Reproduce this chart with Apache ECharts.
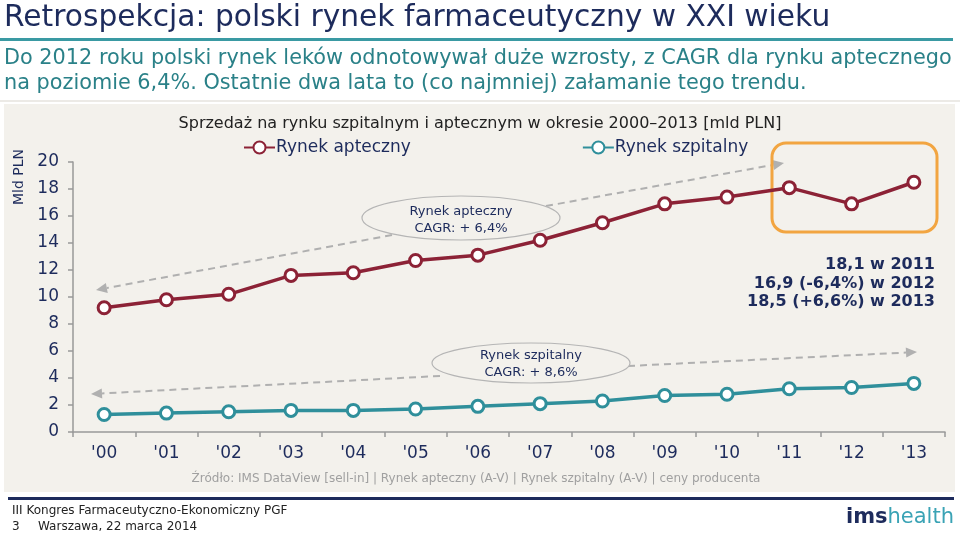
<!DOCTYPE html>
<html>
<head>
<meta charset="utf-8">
<script src="https://cdn.jsdelivr.net/npm/echarts@6/dist/echarts.min.js"></script>
<style>
html,body{margin:0;padding:0;background:#fff;}
#c{width:960px;height:536px;}
</style>
</head>
<body>
<div id="c"></div>
<script>
var categories = ["'00","'01","'02","'03","'04","'05","'06","'07","'08","'09","'10","'11","'12","'13"];
var rynekApteczny = [9.2, 9.8, 10.2, 11.6, 11.8, 12.7, 13.1, 14.2, 15.5, 16.9, 17.4, 18.1, 16.9, 18.5];
var rynekSzpitalny = [1.3, 1.4, 1.5, 1.6, 1.6, 1.7, 1.9, 2.1, 2.3, 2.7, 2.8, 3.2, 3.3, 3.6];
var yTicks = {min: 0, max: 20, interval: 2};

var NAVY = '#1d2b5c';
var TEAL = '#2f8f9b';
var RED = '#8c2236';
var FONT = '"DejaVu Sans", Verdana, sans-serif';

var chart = echarts.init(document.getElementById('c'));

function arrow(x1, y1, x2, y2) {
  var ang = Math.atan2(y2 - y1, x2 - x1);
  var L = 11, W = 5;
  var bx = x2 - L * Math.cos(ang), by = y2 - L * Math.sin(ang);
  var px = -Math.sin(ang) * W, py = Math.cos(ang) * W;
  return [
    {type: 'line', z: 1, shape: {x1: x1, y1: y1, x2: bx, y2: by},
     style: {stroke: '#b0b0b0', lineWidth: 2, lineDash: [7, 5]}},
    {type: 'polygon', z: 1, shape: {points: [[x2, y2], [bx + px, by + py], [bx - px, by - py]]},
     style: {fill: '#b0b0b0'}}
  ];
}

var graphics = [
  {type: 'text', left: 4, top: 3, style: {text: 'Retrospekcja: polski rynek farmaceutyczny w XXI wieku', font: '29.7px ' + FONT, fill: NAVY}},
  {type: 'rect', shape: {x: 0, y: 38, width: 953, height: 3}, style: {fill: '#3a9aa3'}},
  {type: 'text', left: 4, top: 48, style: {text: 'Do 2012 roku polski rynek leków odnotowywał duże wzrosty, z CAGR dla rynku aptecznego', font: '20.8px ' + FONT, fill: '#2a8188'}},
  {type: 'text', left: 4, top: 73, style: {text: 'na poziomie 6,4%. Ostatnie dwa lata to (co najmniej) załamanie tego trendu.', font: '20.8px ' + FONT, fill: '#2a8188'}},
  {type: 'rect', z: -10, shape: {x: 4, y: 104, width: 951, height: 388}, style: {fill: '#f3f1ec'}},
  {type: 'rect', z: -10, shape: {x: 0, y: 100, width: 960, height: 2}, style: {fill: '#eceae6'}},
  {type: 'text', rotation: Math.PI / 2, x: 12, y: 205, style: {text: 'Mld PLN', font: '14px ' + FONT, fill: NAVY}},
  {type: 'ellipse', z: 2, shape: {cx: 461, cy: 218, rx: 99, ry: 22}, style: {fill: '#f3f1ec', stroke: '#b5b5b5', lineWidth: 1.2}},
  {type: 'text', z: 3, x: 461, y: 203, style: {text: 'Rynek apteczny\nCAGR: + 6,4%', font: '13px ' + FONT, fill: NAVY, align: 'center', lineHeight: 17}},
  {type: 'ellipse', z: 2, shape: {cx: 531, cy: 363, rx: 99, ry: 20}, style: {fill: '#f3f1ec', stroke: '#b5b5b5', lineWidth: 1.2}},
  {type: 'text', z: 3, x: 531, y: 347, style: {text: 'Rynek szpitalny\nCAGR: + 8,6%', font: '13px ' + FONT, fill: NAVY, align: 'center', lineHeight: 17}},
  {type: 'rect', z: 4, shape: {x: 772, y: 143, width: 165, height: 89, r: 14}, style: {fill: 'none', stroke: '#f2a541', lineWidth: 3}},
  {type: 'text', z: 3, x: 935, y: 256, style: {text: '18,1 w 2011\n16,9 (-6,4%) w 2012\n18,5 (+6,6%) w 2013', font: 'bold 16px ' + FONT, fill: NAVY, align: 'right', lineHeight: 18.5}},
  {type: 'text', x: 476, y: 473, style: {text: 'Źródło: IMS DataView [sell-in] | Rynek apteczny (A-V) | Rynek szpitalny (A-V) | ceny producenta', font: '12px ' + FONT, fill: '#a0a0a0', align: 'center'}},
  {type: 'rect', shape: {x: 8, y: 497, width: 946, height: 3}, style: {fill: '#1d2b5c'}},
  {type: 'text', x: 12, y: 505, style: {text: 'III Kongres Farmaceutyczno-Ekonomiczny PGF', font: '12px ' + FONT, fill: '#222'}},
  {type: 'text', x: 12, y: 521, style: {text: '3', font: '12px ' + FONT, fill: '#222'}},
  {type: 'text', x: 38, y: 521, style: {text: 'Warszawa, 22 marca 2014', font: '12px ' + FONT, fill: '#222'}},
  {type: 'text', x: 954, y: 507, style: {text: '{a|ims}{b|health}', align: 'right', rich: {
    a: {font: 'bold 21px ' + FONT, fill: NAVY},
    b: {font: '21px ' + FONT, fill: '#3aa3b5'}
  }}}
];
graphics = graphics.concat(arrow(392, 235, 96, 290));
graphics = graphics.concat(arrow(546, 206, 784, 163));
graphics = graphics.concat(arrow(440, 376, 91, 394));
graphics = graphics.concat(arrow(628, 366, 917, 352));

chart.setOption({
  backgroundColor: 'transparent',
  animation: false,
  textStyle: {fontFamily: FONT},
  title: {
    text: 'Sprzedaż na rynku szpitalnym i aptecznym w okresie 2000–2013 [mld PLN]',
    left: 'center', top: 116, padding: 0,
    textStyle: {fontSize: 16, fontWeight: 'normal', color: '#222', fontFamily: FONT}
  },
  legend: {
    left: 243, top: 139, itemGap: 171, itemWidth: 31, itemHeight: 15, padding: 0,
    textStyle: {fontSize: 17, color: NAVY, fontFamily: FONT, padding: [0, 0, 0, -4]},
    data: ['Rynek apteczny', 'Rynek szpitalny']
  },
  grid: {left: 73, right: 15, top: 162, bottom: 104, containLabel: false},
  xAxis: {
    type: 'category', data: categories, boundaryGap: true,
    axisLine: {lineStyle: {color: '#999', width: 1.5}},
    axisTick: {show: true, length: 5, lineStyle: {color: '#999', width: 1.5}},
    axisLabel: {fontSize: 17, color: NAVY, margin: 13}
  },
  yAxis: {
    type: 'value', min: yTicks.min, max: yTicks.max, interval: yTicks.interval,
    axisLine: {show: true, lineStyle: {color: '#999', width: 1.5}},
    axisTick: {show: true, length: 5, lineStyle: {color: '#999', width: 1.5}},
    splitLine: {show: false},
    axisLabel: {fontSize: 17, color: NAVY, margin: 14}
  },
  series: [
    {name: 'Rynek apteczny', type: 'line', data: rynekApteczny, z: 5,
     symbol: 'circle', symbolSize: 12, color: RED,
     lineStyle: {color: RED, width: 3.5},
     itemStyle: {color: '#fff', borderColor: RED, borderWidth: 3}},
    {name: 'Rynek szpitalny', type: 'line', data: rynekSzpitalny, z: 5,
     symbol: 'circle', symbolSize: 12, color: TEAL,
     lineStyle: {color: TEAL, width: 3.5},
     itemStyle: {color: '#fff', borderColor: TEAL, borderWidth: 3}}
  ],
  graphic: graphics
});
</script>
</body>
</html>
